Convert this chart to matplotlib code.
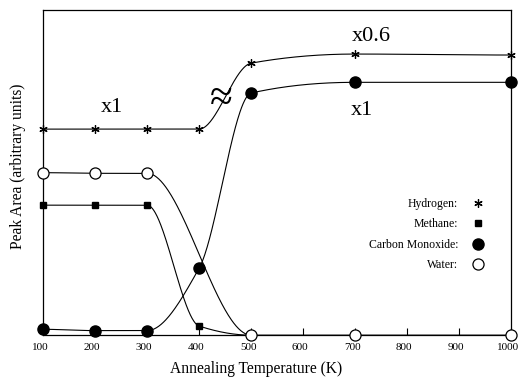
import numpy as np
import matplotlib
matplotlib.use("Agg")
import matplotlib.pyplot as plt
from matplotlib.transforms import ScaledTranslation

# -- Data (peak areas, arbitrary units) --
hydrogen_t = [100, 200, 300, 400, 500, 700, 1000]
hydrogen = [0.634, 0.634, 0.634, 0.634, 0.837, 0.865, 0.862]
methane_t = [100, 200, 300, 400, 500]
methane = [0.40, 0.40, 0.40, 0.028, 0.0]
co_t = [100, 200, 300, 400, 500, 700, 1000]
co = [0.018, 0.014, 0.014, 0.206, 0.745, 0.778, 0.778]
water_t = [100, 200, 300, 500, 700, 1000]
water = [0.50, 0.498, 0.498, 0.0, 0.0, 0.0]

tick_vals = [100, 200, 300, 400, 500, 600, 700, 800, 900, 1000]


# -- Smooth guide curve (monotone cubic through the points) --
def pchip(x, y, xs):
    x = np.asarray(x, float)
    y = np.asarray(y, float)
    h = np.diff(x)
    d = np.diff(y) / h
    m = np.zeros_like(y)
    for k in range(1, len(x) - 1):
        if d[k - 1] * d[k] > 0:
            w1 = 2 * h[k] + h[k - 1]
            w2 = h[k] + 2 * h[k - 1]
            m[k] = (w1 + w2) / (w1 / d[k - 1] + w2 / d[k])
    ys = np.empty_like(xs)
    for i, xv in enumerate(xs):
        k = min(np.searchsorted(x, xv, side="right") - 1, len(x) - 2)
        t = (xv - x[k]) / h[k]
        h00 = 2 * t**3 - 3 * t**2 + 1
        h10 = t**3 - 2 * t**2 + t
        h01 = -2 * t**3 + 3 * t**2
        h11 = t**3 - t**2
        ys[i] = h00 * y[k] + h10 * h[k] * m[k] + h01 * y[k + 1] + h11 * h[k] * m[k + 1]
    return ys


plt.rcParams["font.family"] = ["Liberation Serif", "DejaVu Serif"]

fig = plt.figure(figsize=(5.19, 3.77), dpi=100)
ax = fig.add_axes([0.083, 0.111, 0.902, 0.862])

series = [
    (hydrogen_t, hydrogen, "Hydrogen:", dict(marker=(6, 2, 0), ms=6, mew=0.9, mfc="black")),
    (methane_t, methane, "Methane:", dict(marker="s", ms=4.5, mfc="black")),
    (co_t, co, "Carbon Monoxide:", dict(marker="o", ms=8, mfc="black")),
    (water_t, water, "Water:", dict(marker="o", ms=8, mfc="white", mew=0.9)),
]

for tx, ty, name, style in series:
    xs = np.linspace(tx[0], tx[-1], 600)
    ax.plot(xs, pchip(tx, ty, xs), color="black", lw=0.8, clip_on=False)
    ax.plot(tx, ty, ls="none", color="black", label=name, clip_on=False, zorder=3, **style)

# scale factors and axis break
ax.text(233, 0.70, "x1", fontsize=16, ha="center", va="center")
ax.text(731, 0.92, "x0.6", fontsize=16, ha="center", va="center")
ax.text(713, 0.69, "x1", fontsize=16, ha="center", va="center")
ax.text(442, 0.725, "\u2248", fontsize=30, ha="center", va="center", color="black")

ax.set_xlim(100, 1000)
ax.set_ylim(0, 1)
ax.set_xticks(tick_vals)
ax.set_yticks([])
ax.tick_params(axis="x", direction="in", length=5, width=0.8, labelsize=8, pad=6)
shift = ScaledTranslation(-3 / 100, 0, fig.dpi_scale_trans)
for lbl in ax.get_xticklabels():
    lbl.set_transform(lbl.get_transform() + shift)
for s in ax.spines.values():
    s.set_linewidth(0.9)

ax.set_xlabel("Annealing Temperature (K)", fontsize=11.2, labelpad=6, x=0.455)
ax.set_ylabel("Peak Area (arbitrary units)", fontsize=11.2, labelpad=12, y=0.52)

leg = ax.legend(loc="center right", bbox_to_anchor=(0.955, 0.31), frameon=False,
                markerfirst=False, numpoints=1, handlelength=1.0, handletextpad=1.2,
                labelspacing=0.72, fontsize=8.5, borderpad=0)

fig.savefig("out.png", dpi=100)
